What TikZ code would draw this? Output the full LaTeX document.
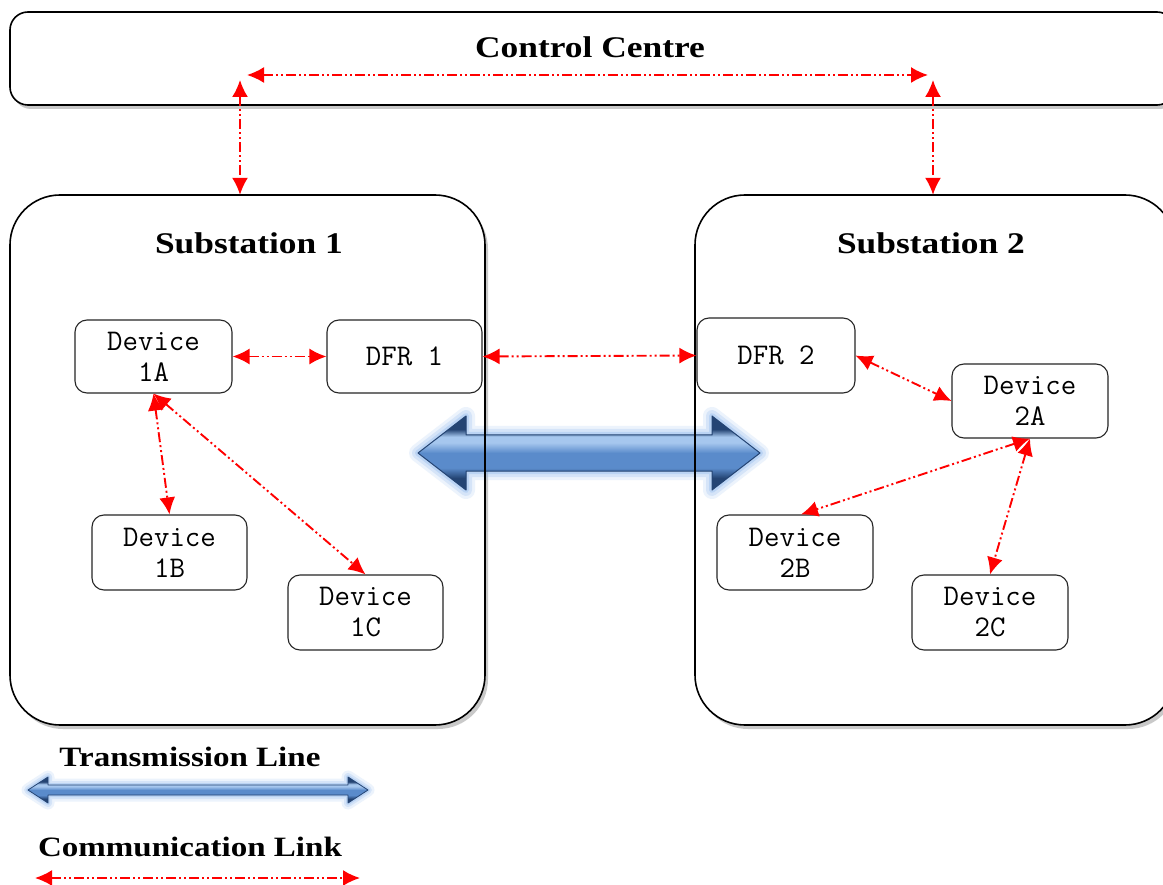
\documentclass[tikz,border=0pt]{standalone}
\usepackage{fontspec}
\setmainfont{Liberation Serif}
\newfontfamily\headfont[FakeStretch=1.18]{Liberation Serif}
\usetikzlibrary{arrows.meta,shadows,calc}

\definecolor{tlDark}{HTML}{244473}
\definecolor{tlMid}{HTML}{5A8BCB}
\definecolor{tlLight}{HTML}{A6C7EE}
\definecolor{tlGlow}{HTML}{8DB8EE}

% vertical shading for the transmission line arrows (visible part 25bp..75bp)
\pgfdeclareverticalshading{tlshade}{100bp}{%
  color(0bp)=(tlDark); color(33bp)=(tlDark); color(40bp)=(tlMid);
  color(50bp)=(tlMid); color(57bp)=(tlLight); color(61bp)=(tlLight);
  color(66bp)=(tlDark); color(100bp)=(tlDark)}

\tikzset{
  panelbox/.style={fill=white, rounded corners=#1,
    drop shadow={shadow xshift=3pt, shadow yshift=-4pt, opacity=0.35, fill=black!60}},
  panelline/.style={draw=black, line width=1.6pt, rounded corners=#1},
  devbox/.style={draw=black!85, line width=1.1pt, rounded corners=12pt, fill=white,
    minimum width=157pt, minimum height=73pt, inner sep=0pt, align=center,
    font=\ttfamily\fontsize{30}{31}\selectfont},
  headtext/.style={font=\headfont\bfseries\fontsize{#1}{#1}\selectfont},
  comm/.style={draw=red, line width=1.9pt,
    dash pattern=on 10pt off 3pt on 2pt off 3pt on 2pt off 3pt,
    {Latex[length=17pt,width=16pt]}-{Latex[length=17pt,width=16pt]}},
  tline/.style={shading=tlshade, draw=tlDark, line width=1pt, line join=round},
  glow/.style={draw=tlGlow, line join=round, line width=#1, opacity=0.25}
}

\begin{document}
\begin{tikzpicture}[x=1pt,y=-1pt]
\useasboundingbox (0,0) rectangle (1163,885);
\fill[white] (0,0) rectangle (1163,885);

% control centre
\node[panelbox=18pt, panelline=18pt, minimum width=1165pt, minimum height=93pt, inner sep=0pt]
  (cc) at (592.5,58.5) {};
\node[headtext=30] (cclabel) at (590,47) {Control Centre};

% substations (filled first, borders redrawn after the transmission line)
\node[panelbox=50pt, minimum width=475pt, minimum height=530pt, inner sep=0pt] (sub1) at (247.5,460) {};
\node[panelbox=50pt, minimum width=480pt, minimum height=530pt, inner sep=0pt] (sub2) at (935,460) {};

% transmission line between substations
\foreach \w/\o in {18pt/0.16, 12pt/0.24, 6pt/0.35}{
  \draw[glow=\w, opacity=\o]
    (418,453) -- (466,416) -- (466,435) -- (712,435) -- (712,416) -- (760,453)
    -- (712,490) -- (712,471) -- (466,471) -- (466,490) -- cycle;
}
\draw[tline]
  (418,453) -- (466,416) -- (466,435) -- (712,435) -- (712,416) -- (760,453)
  -- (712,490) -- (712,471) -- (466,471) -- (466,490) -- cycle;

\node[panelline=50pt, minimum width=475pt, minimum height=530pt, inner sep=0pt] at (sub1) {};
\node[panelline=50pt, minimum width=480pt, minimum height=530pt, inner sep=0pt] at (sub2) {};

\node[headtext=30] (s1label) at (249,243) {Substation 1};
\node[headtext=30] (s2label) at (931,243) {Substation 2};

% devices
\node[devbox] (d1A) at (153.5,356.5) {Device\\1A};
\node[devbox, minimum width=155pt] (dfr1) at (404.5,356.5) {DFR 1};
\node[devbox, minimum width=158pt, minimum height=75pt] (dfr2) at (776,355.5) {DFR 2};
\node[devbox, minimum width=156pt, minimum height=74pt] (d2A) at (1030,401) {Device\\2A};
\node[devbox, minimum width=155pt, minimum height=75pt] (d1B) at (169.5,552.5) {Device\\1B};
\node[devbox, minimum width=155pt, minimum height=75pt] (d1C) at (365.5,612.5) {Device\\1C};
\node[devbox, minimum width=156pt, minimum height=75pt] (d2B) at (795,552.5) {Device\\2B};
\node[devbox, minimum width=156pt, minimum height=75pt] (d2C) at (990,612.5) {Device\\2C};

% communication links
\coordinate (cc1) at (247,75);
\coordinate (cc2) at (928,75);
\coordinate (v1) at (240,80);
\coordinate (v2) at (933,80);
\draw[comm] (cc1) -- (cc2);
\draw[comm] (v1) -- (v1 |- sub1.north);
\draw[comm] (v2) -- (v2 |- sub2.north);
\draw[comm] (d1A.east) -- (dfr1.west);
\draw[comm] (dfr1.east) -- (dfr2.west);
\draw[comm] (dfr2.east) -- (d2A.west);
\draw[comm] (d1A.south) -- (d1B.north);
\draw[comm] (d1A.south) -- (d1C.north);
\draw[comm] (d2A.south) -- ($(d2B.north)+(6,0)$);
\draw[comm] (d2A.south) -- (d2C.north);

% legend
\node[headtext=28] (lgT) at (190,757) {Transmission Line};
\foreach \w/\o in {13pt/0.16, 8pt/0.24, 4pt/0.35}{
  \draw[glow=\w, opacity=\o]
    (28,790) -- (48,777) -- (48,785) -- (348,785) -- (348,777) -- (368,790)
    -- (348,803) -- (348,795) -- (48,795) -- (48,803) -- cycle;
}
\draw[tline, line width=0.8pt]
  (28,790) -- (48,777) -- (48,785) -- (348,785) -- (348,777) -- (368,790)
  -- (348,803) -- (348,795) -- (48,795) -- (48,803) -- cycle;

\node[headtext=28] (lgC) at (190,847) {Communication Link};
\coordinate (lg1) at (35,878);
\coordinate (lg2) at (360,878);
\draw[comm] (lg1) -- (lg2);
\end{tikzpicture}
\end{document}
